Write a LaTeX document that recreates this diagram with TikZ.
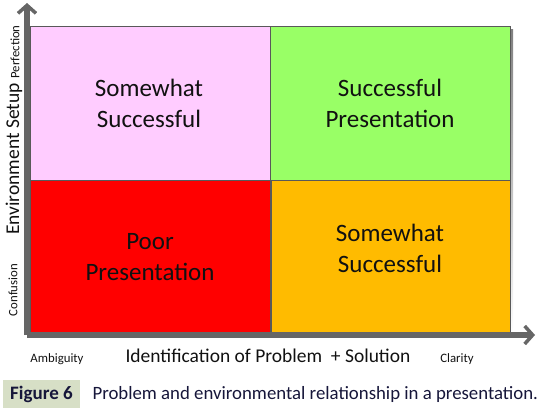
\documentclass[tikz,border=0pt]{standalone}
\usepackage{fontspec}
\setmainfont{Carlito}
\usetikzlibrary{arrows.meta,positioning}
\definecolor{ink}{HTML}{111111}
\definecolor{axis}{HTML}{666666}
\definecolor{edge}{HTML}{595959}
\definecolor{shade}{HTML}{D9D9D9}
\definecolor{qpink}{HTML}{FFCCFF}
\definecolor{qgreen}{HTML}{99FF66}
\definecolor{qred}{HTML}{FF0000}
\definecolor{qorange}{HTML}{FFBB00}
\definecolor{capbg}{HTML}{D7DFC6}
\definecolor{capink}{HTML}{16163A}
\tikzset{
  quad/.style={draw=edge, line width=0.8pt},
  qtext/.style={font=\fontsize{25}{31}\selectfont, text=ink, align=center},
  axtitle/.style={font=\fontsize{19.5}{22}\selectfont, text=ink},
  axend/.style={font=\fontsize{12.8}{14}\selectfont, text=ink},
  axarr/.style={draw=axis, line width=5.5pt, -{Straight Barb[length=8pt,width=18pt,line width=3.5pt]}},
}
\begin{document}
\begin{tikzpicture}[x=1pt,y=-1pt]
\useasboundingbox (0,0) rectangle (543,413);

% ---------------- quadrants ----------------
\fill[shade] (33,29) rectangle (513,336);
\filldraw[quad, fill=qpink] (30,26) rectangle (270,180);
\filldraw[quad, fill=qgreen] (270,26) rectangle (510,180);
\filldraw[quad, fill=qred] (30,180) rectangle (270,333);
\filldraw[quad, fill=qorange] (271,180) rectangle (510,333);

\node[qtext] (tl) at (149,103) {Somewhat\\Successful};
\node[qtext] (tr) at (390,103) {Successful\\Presentation};
\node[qtext] (bl) at (150,257) {Poor\\Presentation};
\node[qtext] (br) at (390,248) {Somewhat\\Successful};

% ---------------- axes ----------------
\coordinate (o) at (27,335);
\coordinate (ytip) at (27,3);
\coordinate (xtip) at (535,335);
\draw[axarr] (o) -- (ytip);
\draw[axarr] (o) -- (xtip);

% ---------------- axis labels ----------------
\node[axtitle] (xlab) at (268,356) {Identification of Problem~ + Solution};
\node[axend] (amb) at (57,359) {Ambiguity};
\node[axend] (clr) at (457,359) {Clarity};
\node[axtitle, rotate=90] (ylab) at (14,159) {Environment Setup};
\node[axend, rotate=90] (perf) at (15,52) {Perfection};
\node[axend, rotate=90] (conf) at (13,290) {Confusion};

% ---------------- caption ----------------
\fill[capbg] (3,380) rectangle (80,408);
\node[font=\fontsize{19}{22}\selectfont\bfseries, text=capink] (fig) at (41.5,394) {Figure 6};
\node[font=\fontsize{18.8}{22}\selectfont, text=capink, anchor=west] (cap) at (89,394) {Problem and environmental relationship in a presentation.};

\end{tikzpicture}
\end{document}
